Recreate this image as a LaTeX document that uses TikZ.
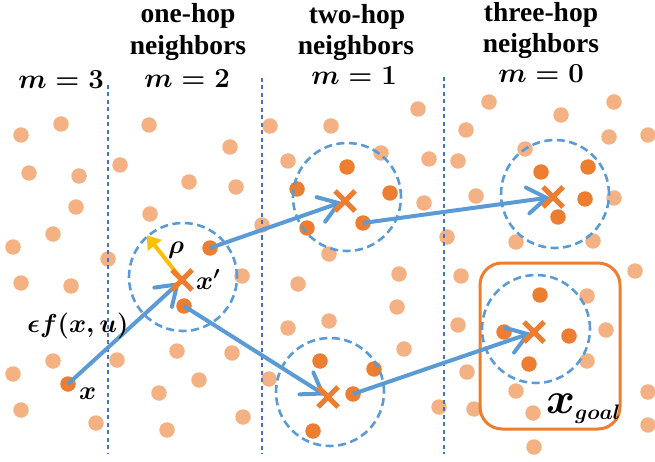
\RequirePackage{fix-cm}
\documentclass[tikz,border=0pt]{standalone}
\usepackage{amsmath}
\usepackage[no-math]{fontspec}
\setmainfont{Liberation Serif}
\usetikzlibrary{arrows.meta,shapes.misc}
\definecolor{lorange}{HTML}{F4B183}
\definecolor{dorange}{HTML}{ED7D31}
\definecolor{bblue}{HTML}{5B9BD5}
\definecolor{sepblue}{HTML}{4472C4}
\definecolor{ygold}{HTML}{FFC000}
\tikzset{
  ldot/.style={circle,fill=lorange,inner sep=0pt,minimum size=15.5pt},
  ddot/.style={circle,fill=dorange,inner sep=0pt,minimum size=15.5pt},
  xmark/.style={cross out,draw=dorange,line width=5pt,inner sep=0pt,minimum size=15pt},
  hop/.style={circle,draw=bblue,dash pattern=on 8pt off 4.5pt,line width=2.6pt,inner sep=0pt,minimum size=108pt},
  sepline/.style={draw=sepblue,line width=1.5pt,dash pattern=on 4pt off 3.5pt},
  move/.style={draw=bblue,line width=4pt,shorten >=3pt,-{Straight Barb[length=19pt,width=26pt,line cap=round]}},
  radius arrow/.style={draw=ygold,line width=4pt,-{Triangle[length=13pt,width=17pt]}},
  goalbox/.style={draw=dorange,line width=3pt,rounded corners=22pt},
  hdr/.style={anchor=base,inner sep=0pt,font=\fontsize{27.5}{32}\selectfont\bfseries},
  lbl/.style={inner sep=0pt,font=\fontsize{26}{30}\selectfont}
}
\begin{document}
\begin{tikzpicture}[x=1pt,y=-1pt]
\useasboundingbox (0,0) rectangle (655,462);
% light dots
\foreach \px/\py [count=\i] in {61/124,21/135,149/125,270/126,331/126,418/109,489/102,561/115,614/102,466/130,
  609/137,648/135,29/173,79/176,120/165,189/182,230/147,236/187,288/161,381/153,
  429/159,458/161,525/149,424/203,476/196,614/198,76/207,150/214,53/234,13/247,
  108/259,262/225,447/237,516/242,593/241,329/254,21/283,71/286,242/276,298/284,
  399/274,461/276,635/271,397/307,458/325,587/296,606/330,288/328,329/321,53/361,
  117/360,177/351,232/353,404/349,13/374,199/380,269/379,159/393,467/372,587/361,
  21/410,96/423,243/417,167/430,439/407,474/409,516/391,533/413,648/392,648/425,534/447}
  \node[ldot] (l\i) at (\px,\py) {};
% dark dots
\node[ddot] (x) at (68,384) {};
\node[ddot] (a1) at (210,248) {};
\node[ddot] (a2) at (184,306) {};
\node[ddot] (b1) at (347,167) {};
\node[ddot] (b2) at (297,189) {};
\node[ddot] (b3) at (390,193) {};
\node[ddot] (b4) at (307,228) {};
\node[ddot] (b5) at (363,223) {};
\node[ddot] (c1) at (320,361) {};
\node[ddot] (c2) at (374,369) {};
\node[ddot] (c3) at (353,394) {};
\node[ddot] (c4) at (313,431) {};
\node[ddot] (d1) at (541,172) {};
\node[ddot] (d2) at (588,167) {};
\node[ddot] (d3) at (585,199) {};
\node[ddot] (d4) at (558,217) {};
\node[ddot] (g1) at (540,295) {};
\node[ddot] (g2) at (504,332) {};
\node[ddot] (g3) at (569,336) {};
\node[ddot] (g4) at (529,364) {};
% separators
\coordinate (s1t) at (108,85);  \coordinate (s1b) at (108,454);
\coordinate (s2t) at (262,78);  \coordinate (s2b) at (262,454);
\coordinate (s3t) at (444,77);  \coordinate (s3b) at (444,454);
\draw[sepline] (s1t) -- (s1b);
\draw[sepline] (s2t) -- (s2b);
\draw[sepline] (s3t) -- (s3b);
% goal box
\node[goalbox,minimum width=140pt,minimum height=166pt] (goal) at (550,346) {};
% neighbourhoods
\node[hop] (n1) at (183,277) {};
\node[hop] (n2) at (347,197) {};
\node[hop] (n3) at (330,392) {};
\node[hop] (n4) at (555,194) {};
\node[hop] (n5) at (536,329) {};
% sample points
\coordinate (p1) at (182,280);
\coordinate (p2) at (345,201);
\coordinate (p3) at (328,397);
\coordinate (p4) at (553,197);
\coordinate (p5) at (534,332);
% moves
\draw[move] (x.center) -- (p1);
\draw[move] (a1.center) -- (p2);
\draw[move] (a2.center) -- (p3);
\draw[move] (b5.center) -- (p4);
\draw[move] (c3.center) -- (p5);
\draw[radius arrow] (p1) -- (n1.131);
% crosses
\node[xmark] (k1) at (p1) {};
\node[xmark] (k2) at (p2) {};
\node[xmark] (k3) at (p3) {};
\node[xmark] (k4) at (p4) {};
\node[xmark] (k5) at (p5) {};
% headers
\node[hdr] (m3) at (61,89) {$\boldsymbol{m=3}$};
\node[hdr] (h1a) at (188,23) {one-hop};
\node[hdr] (h1b) at (188,55) {neighbors};
\node[hdr] (h1m) at (187,88) {$\boldsymbol{m=2}$};
\node[hdr] (h2a) at (357,24) {two-hop};
\node[hdr] (h2b) at (356,55) {neighbors};
\node[hdr] (h2m) at (354,85) {$\boldsymbol{m=1}$};
\node[hdr] (h3a) at (541,22) {three-hop};
\node[hdr] (h3b) at (541,53) {neighbors};
\node[hdr] (h3m) at (541,83) {$\boldsymbol{m=0}$};
% labels
\node[lbl,anchor=base] (rho) at (176,253) {$\boldsymbol{\rho}$};
\node[lbl,anchor=base west] (xp) at (196,289) {$\boldsymbol{x^{\prime}}$};
\node[lbl,anchor=base] (fxu) at (78,332) {$\boldsymbol{\epsilon f(x,u)}$};
\node[lbl,anchor=base west] (xl) at (79,399) {$\boldsymbol{x}$};
\node[inner sep=0pt,anchor=base west,font=\fontsize{44}{48}\selectfont] (xg) at (546,413)
  {$\boldsymbol{x}_{\mbox{\fontsize{21}{22}\selectfont$\boldsymbol{goal}$}}$};
\end{tikzpicture}
\end{document}
